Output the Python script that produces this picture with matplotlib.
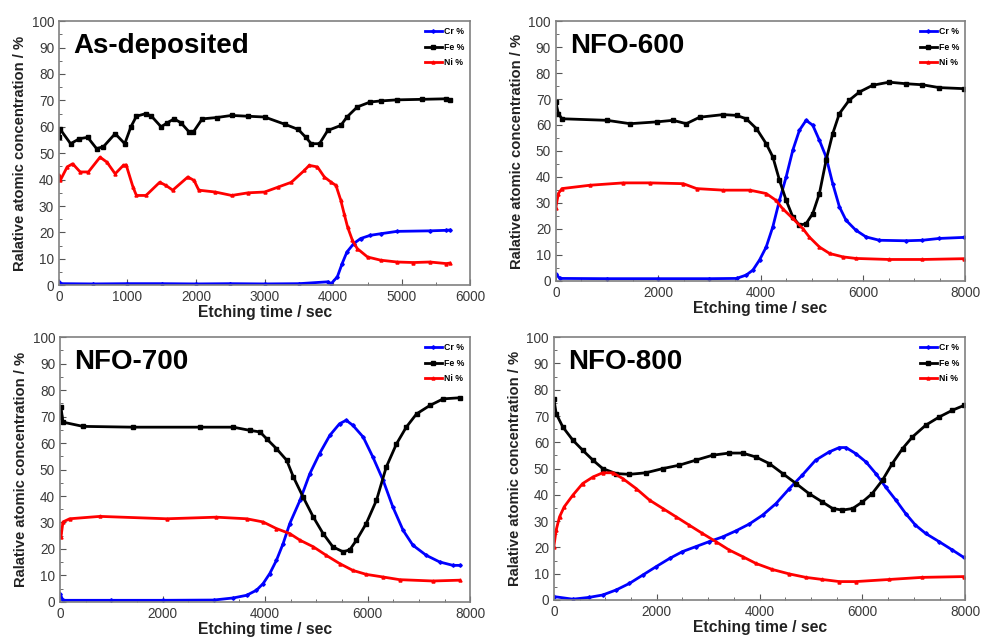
import matplotlib
matplotlib.use("Agg")
import matplotlib.pyplot as plt
from matplotlib.ticker import MultipleLocator

plt.rcParams['font.family'] = ['Liberation Sans', 'DejaVu Sans']

# ---------------- data ----------------
titles = ["As-deposited", "NFO-600", "NFO-700", "NFO-800"]
series_names = ["Cr %", "Fe %", "Ni %"]

# As-deposited
ad_fe_t = [0, 20, 170, 300, 420, 550, 650, 820, 960, 1050, 1130, 1270, 1350, 1490, 1580, 1680, 1780, 1900, 1960, 2090, 2300, 2520, 2750, 3000, 3290, 3490, 3600, 3680, 3800, 3920, 4110, 4200, 4350, 4540, 4700, 4930, 5300, 5650, 5700]
ad_fe_v = [56, 59, 53.6, 55.5, 56, 51.7, 52.5, 57.4, 53.6, 60, 64, 65, 64, 60, 61.5, 63, 61.5, 58, 58, 63, 63.5, 64.3, 64, 63.7, 61, 59, 56, 53.6, 53.6, 58.6, 60.5, 63.7, 67.5, 69.4, 69.8, 70.2, 70.4, 70.6, 70.2]
ad_ni_t = [0, 20, 120, 200, 310, 430, 600, 700, 820, 940, 980, 1080, 1130, 1270, 1470, 1560, 1660, 1880, 1970, 2040, 2280, 2520, 2760, 3000, 3200, 3390, 3580, 3650, 3770, 3870, 3970, 4040, 4110, 4160, 4210, 4280, 4350, 4500, 4690, 4930, 5170, 5410, 5650, 5700]
ad_ni_v = [41.6, 39.7, 44.8, 46, 42.9, 42.9, 48.5, 46.6, 42.2, 45.4, 45.6, 37.2, 34, 34, 39, 37.8, 36, 41, 39.7, 36, 35.3, 34, 35, 35.3, 37.2, 39, 43.5, 45.4, 44.8, 41, 39, 37.8, 32.2, 27, 22, 17, 13.9, 10.7, 9.5, 8.8, 8.6, 8.8, 8.2, 8.4]
ad_cr_t = [0, 30, 500, 1000, 1500, 2000, 2500, 3000, 3500, 3920, 3970, 4060, 4130, 4200, 4300, 4400, 4540, 4690, 4930, 5410, 5650, 5700]
ad_cr_v = [1.3, 0.6, 0.5, 0.6, 0.6, 0.5, 0.6, 0.5, 0.6, 1.3, 0.6, 3.2, 8.2, 12.6, 15.8, 17.7, 18.9, 19.5, 20.4, 20.6, 20.8, 20.9]

# NFO-600
n6_fe_t = [0, 50, 120, 1000, 1450, 1970, 2290, 2550, 2810, 3270, 3530, 3720, 3920, 4110, 4240, 4370, 4500, 4630, 4760, 4890, 5020, 5150, 5280, 5410, 5540, 5730, 5930, 6190, 6510, 6840, 7160, 7490, 7970]
n6_fe_v = [68.8, 64.4, 62.4, 61.8, 60.5, 61.2, 61.8, 60.5, 63, 64, 63.7, 62.4, 58.6, 52.8, 47.7, 38.7, 31, 24.6, 21.4, 22, 25.9, 33.6, 46.4, 56.7, 64.4, 69.5, 72.7, 75.3, 76.5, 75.9, 75.5, 74.4, 74]
n6_cr_t = [0, 80, 1000, 2000, 3000, 3530, 3720, 3850, 3980, 4110, 4240, 4370, 4500, 4630, 4760, 4890, 5020, 5150, 5280, 5410, 5540, 5670, 5860, 6060, 6320, 6840, 7160, 7490, 7970]
n6_cr_v = [2.6, 0.9, 0.8, 0.8, 0.8, 0.9, 2.2, 4.1, 8, 13, 20.8, 31, 40, 50.3, 58, 61.8, 59.9, 54.1, 47.7, 37.4, 28.5, 23.3, 19.5, 16.9, 15.6, 15.4, 15.6, 16.3, 16.7]
n6_ni_t = [0, 50, 120, 670, 1320, 1840, 2490, 2750, 3270, 3790, 4110, 4300, 4430, 4630, 4830, 4950, 5150, 5350, 5610, 5860, 6510, 7160, 7970]
n6_ni_v = [28.2, 33.6, 35.5, 36.8, 37.7, 37.7, 37.4, 35.5, 34.9, 34.9, 33.6, 31, 27.8, 24, 20, 16.9, 13, 10.5, 9.2, 8.6, 8.2, 8.2, 8.5]

# NFO-700
n7_fe_t = [0, 20, 60, 450, 1430, 2730, 3380, 3700, 3900, 4030, 4220, 4420, 4550, 4740, 4940, 5130, 5320, 5520, 5650, 5780, 5970, 6170, 6360, 6560, 6750, 6950, 7210, 7470, 7790]
n7_fe_v = [69.8, 73.6, 67.9, 66.3, 66, 66, 66, 64.8, 64.2, 61.6, 57.9, 53.5, 47.2, 39.6, 32, 25.8, 20.8, 18.9, 19.7, 23.3, 29.6, 38.4, 50.9, 59.7, 66, 71, 74.2, 76.7, 77.1]
n7_cr_t = [0, 60, 1000, 2000, 3000, 3380, 3640, 3830, 3960, 4090, 4220, 4350, 4480, 4680, 4870, 5060, 5260, 5450, 5580, 5710, 5910, 6100, 6300, 6490, 6690, 6880, 7140, 7400, 7660, 7790]
n7_cr_v = [3.1, 0.6, 0.6, 0.6, 0.7, 1.5, 2.5, 4.4, 6.9, 10.7, 15.7, 22, 29.6, 38.4, 48.4, 56, 62.9, 67.3, 68.6, 66.7, 62.3, 54.7, 45.9, 35.8, 27, 21.4, 17.6, 15.1, 13.8, 13.8]
n7_ni_t = [0, 20, 60, 190, 780, 2080, 3050, 3640, 3960, 4220, 4480, 4680, 4940, 5190, 5450, 5710, 5970, 6300, 6620, 7270, 7790]
n7_ni_v = [26.4, 24.5, 30.2, 31.4, 32.3, 31.4, 32, 31.4, 30.2, 27.7, 25.8, 23.3, 20.8, 17.6, 14.5, 11.9, 10.4, 9.4, 8.4, 7.9, 8.2]

# NFO-800
n8_fe_t = [0, 45, 175, 370, 560, 760, 950, 1210, 1470, 1790, 2120, 2440, 2760, 3090, 3410, 3670, 3930, 4190, 4450, 4710, 4960, 5220, 5420, 5610, 5810, 6000, 6190, 6390, 6580, 6780, 6970, 7230, 7490, 7750, 7970]
n8_fe_v = [76.6, 70.9, 65.8, 60.8, 57, 53.2, 50, 48.1, 47.8, 48.4, 50, 51.3, 53.2, 55.1, 55.9, 55.9, 54.4, 51.9, 48.1, 44.3, 40.5, 37.3, 34.8, 34.2, 34.8, 37.3, 40.5, 45.6, 51.9, 57.6, 62, 66.5, 69.6, 72.2, 74]
n8_ni_t = [0, 45, 110, 200, 370, 560, 760, 950, 1150, 1340, 1600, 1860, 2120, 2380, 2630, 2890, 3150, 3410, 3670, 3930, 4250, 4580, 4900, 5220, 5550, 5870, 6520, 7160, 7970]
n8_ni_v = [20.3, 26.6, 31.6, 35.4, 39.9, 44.3, 46.8, 48.4, 48.4, 46.2, 42.4, 38, 34.8, 31.6, 28.5, 25.3, 22.2, 19, 16.5, 13.9, 11.6, 9.9, 8.6, 7.8, 7, 7, 7.8, 8.6, 8.9]
n8_cr_t = [0, 370, 690, 950, 1210, 1470, 1730, 1990, 2250, 2500, 2760, 3020, 3280, 3540, 3800, 4060, 4320, 4580, 4830, 5090, 5350, 5550, 5680, 5870, 6070, 6260, 6450, 6650, 6840, 7030, 7230, 7490, 7750, 7970]
n8_cr_v = [1.3, 0.3, 1, 1.9, 3.8, 6.3, 9.5, 12.7, 15.8, 18.4, 20.3, 22.2, 24, 26.3, 28.9, 32.3, 36.7, 42.4, 47.5, 53.2, 56.3, 58, 58, 55.7, 52.5, 48.1, 43, 38, 32.9, 28.5, 25.3, 22.2, 19, 16.2]

panels = [
    dict(cr=(ad_cr_t, ad_cr_v), fe=(ad_fe_t, ad_fe_v), ni=(ad_ni_t, ad_ni_v), xmax=6000, xmajor=1000),
    dict(cr=(n6_cr_t, n6_cr_v), fe=(n6_fe_t, n6_fe_v), ni=(n6_ni_t, n6_ni_v), xmax=8000, xmajor=2000),
    dict(cr=(n7_cr_t, n7_cr_v), fe=(n7_fe_t, n7_fe_v), ni=(n7_ni_t, n7_ni_v), xmax=8000, xmajor=2000),
    dict(cr=(n8_cr_t, n8_cr_v), fe=(n8_fe_t, n8_fe_v), ni=(n8_ni_t, n8_ni_v), xmax=8000, xmajor=2000),
]

positions = [
    [0.060, 0.555, 0.419, 0.412],
    [0.566, 0.562, 0.417, 0.405],
    [0.061, 0.061, 0.418, 0.413],
    [0.564, 0.064, 0.419, 0.410],
]

colors = {"cr": "#0000ff", "fe": "#000000", "ni": "#ff0000"}
markers = {"cr": "D", "fe": "s", "ni": "^"}

fig = plt.figure(figsize=(9.82, 6.41), dpi=100)
for i, (p, pos, title) in enumerate(zip(panels, positions, titles)):
    ax = fig.add_axes(pos)
    for key, name in zip(["cr", "fe", "ni"], series_names):
        t, v = p[key]
        ax.plot(t, v, color=colors[key], lw=2.0, marker=markers[key],
                ms=2.2 if key != "cr" else 1.8, label=name)
    ax.set_xlim(0, p["xmax"])
    ax.set_ylim(0, 100)
    ax.xaxis.set_major_locator(MultipleLocator(p["xmajor"]))
    ax.xaxis.set_minor_locator(MultipleLocator(500))
    ax.yaxis.set_major_locator(MultipleLocator(10))
    ax.yaxis.set_minor_locator(MultipleLocator(5))
    ax.tick_params(which='both', direction='in', labelsize=9.8, labelcolor='#3a3a3a',
                   color='#555555')
    ax.tick_params(which='major', length=4)
    ax.tick_params(which='minor', length=2.5)
    for s in ax.spines.values():
        s.set_color('#808080')
        s.set_linewidth(1.2)
    ax.set_xlabel("Etching time / sec", fontsize=11.3, fontweight='bold', labelpad=1, color='#222222')
    ax.set_ylabel("Ralative atomic concentration / %", fontsize=10.6, fontweight='bold',
                  labelpad=3, color='#222222')
    ax.text(0.035, 0.955, title, transform=ax.transAxes, fontsize=20, fontweight='bold',
            va='top', ha='left')
    leg = ax.legend(loc='upper right', frameon=False, fontsize=6.3, handlelength=2,
                    markerscale=1.0, labelspacing=0.75, borderaxespad=0.3, handletextpad=0.2)
    for txt in leg.get_texts():
        txt.set_fontweight('bold')

fig.savefig("out.png", dpi=100)
